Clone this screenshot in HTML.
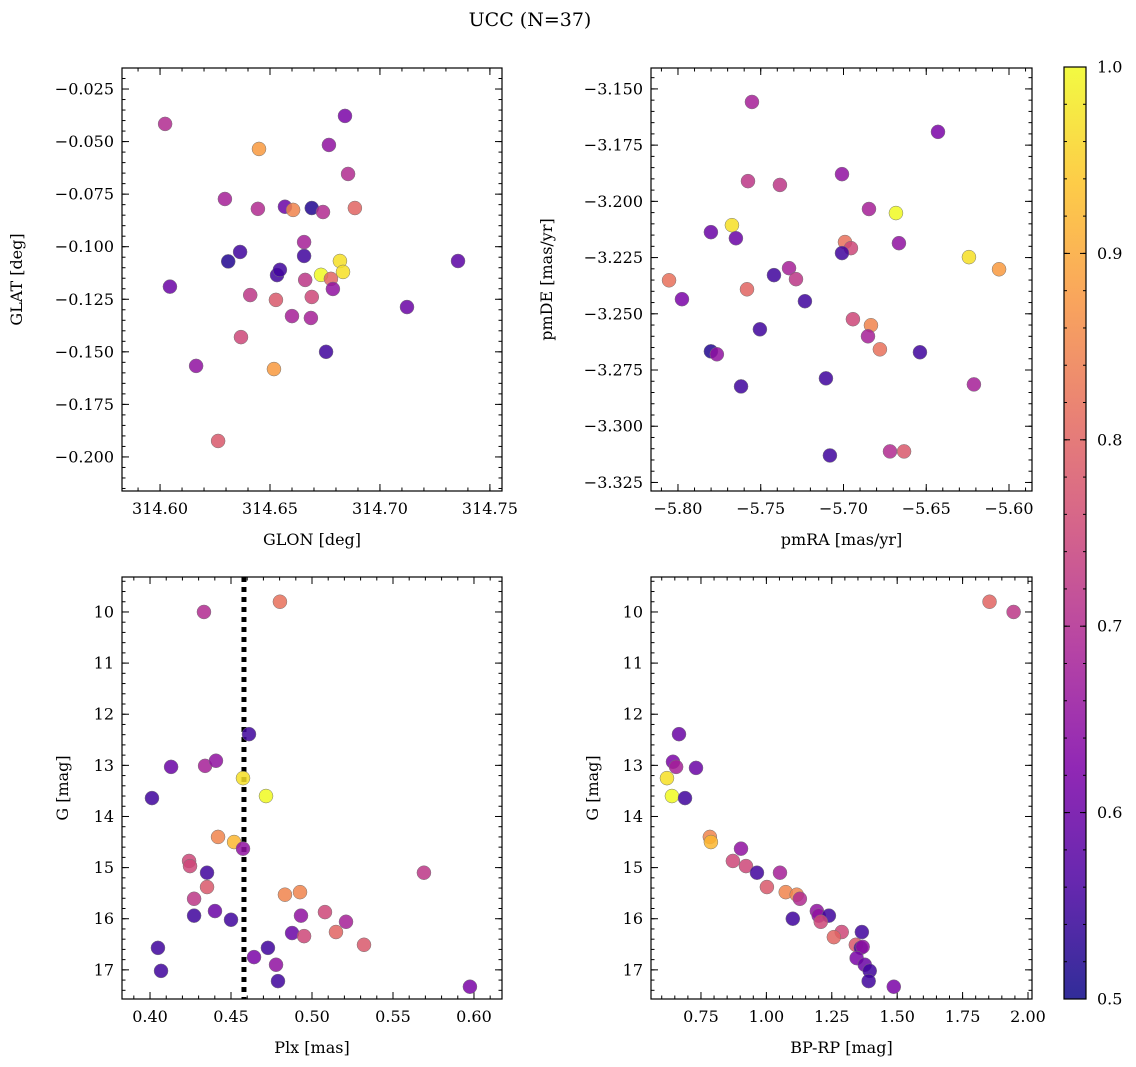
<!DOCTYPE html>
<html><head><meta charset="utf-8"><style>
html,body{margin:0;padding:0;background:#fff}
svg{display:block;font-family:"DejaVu Serif","Liberation Serif",serif}
</style></head><body>
<svg id="fig" width="1136" height="1067" viewBox="0 0 1136 1067" xmlns="http://www.w3.org/2000/svg">
<defs><linearGradient id="plasma" x1="0" y1="1" x2="0" y2="0">
<stop offset="0" stop-color="#0d0887"/><stop offset="0.125" stop-color="#4c02a1"/><stop offset="0.25" stop-color="#7e03a8"/><stop offset="0.375" stop-color="#a92395"/><stop offset="0.5" stop-color="#cc4778"/><stop offset="0.625" stop-color="#e56b5d"/><stop offset="0.75" stop-color="#f89540"/><stop offset="0.875" stop-color="#fdc328"/><stop offset="1" stop-color="#f0f921"/></linearGradient></defs>
<text x="530" y="26" font-size="19" text-anchor="middle">UCC (N=37)</text>
</svg>
<script>
const glon=[314.6023,314.6045,314.6164,314.6264,314.6295,314.631,314.6364,314.6368,314.641,314.6445,314.645,314.6527,314.6518,314.6532,314.6545,314.6568,314.6605,314.66,314.6655,314.6655,314.666,314.669,314.669,314.6686,314.6732,314.6741,314.6755,314.6768,314.6777,314.6786,314.6818,314.6832,314.6841,314.6855,314.6886,314.7123,314.7355];
const glat=[-0.0416,-0.119,-0.1567,-0.1924,-0.0773,-0.107,-0.1025,-0.143,-0.123,-0.082,-0.0535,-0.1253,-0.1582,-0.1135,-0.111,-0.081,-0.0825,-0.133,-0.1044,-0.0978,-0.1158,-0.0816,-0.1239,-0.1339,-0.1134,-0.0835,-0.150,-0.0516,-0.1153,-0.1201,-0.1068,-0.112,-0.0378,-0.0654,-0.0816,-0.1287,-0.1068];
const probA=[0.7,0.6,0.65,0.78,0.68,0.52,0.55,0.75,0.72,0.7,0.88,0.78,0.88,0.55,0.55,0.6,0.85,0.68,0.55,0.68,0.72,0.52,0.75,0.68,1.0,0.7,0.55,0.65,0.8,0.65,0.97,0.97,0.62,0.7,0.8,0.6,0.58];
const pmra=[-5.7553,-5.6429,-5.7577,-5.7384,-5.7009,-5.6846,-5.6683,-5.7674,-5.7801,-5.765,-5.6991,-5.6665,-5.6955,-5.7009,-5.6242,-5.606,-5.7329,-5.742,-5.7287,-5.8054,-5.7583,-5.7233,-5.7976,-5.7505,-5.6943,-5.6834,-5.6852,-5.678,-5.7801,-5.7765,-5.6538,-5.7619,-5.7106,-5.6212,-5.7082,-5.6719,-5.6634];
const pmde=[-3.1558,-3.1691,-3.191,-3.1927,-3.1879,-3.2034,-3.2052,-3.2106,-3.2137,-3.2164,-3.2181,-3.2186,-3.2208,-3.223,-3.2248,-3.2302,-3.2297,-3.2328,-3.2346,-3.2351,-3.2391,-3.2444,-3.2435,-3.2569,-3.2524,-3.2551,-3.26,-3.2658,-3.2667,-3.268,-3.2671,-3.2823,-3.2787,-3.2814,-3.313,-3.3112,-3.3112];
const probB=[0.68,0.62,0.72,0.72,0.65,0.68,1.0,0.97,0.6,0.6,0.82,0.65,0.75,0.55,0.97,0.88,0.68,0.55,0.72,0.82,0.8,0.55,0.62,0.55,0.75,0.85,0.68,0.82,0.52,0.65,0.55,0.55,0.55,0.68,0.55,0.7,0.78];
const plx=[0.4333,0.4802,0.4611,0.413,0.434,0.4407,0.4574,0.4716,0.4012,0.442,0.4519,0.4574,0.4241,0.4247,0.5691,0.4352,0.4352,0.4272,0.4833,0.4926,0.4401,0.508,0.45,0.4932,0.4272,0.521,0.4877,0.5148,0.4951,0.4049,0.4642,0.4728,0.5321,0.4068,0.4778,0.479,0.5975];
const gC=[10.0,9.8,12.39,13.03,13.01,12.91,13.25,13.6,13.64,14.4,14.5,14.63,14.87,14.97,15.1,15.1,15.38,15.61,15.53,15.48,15.85,15.87,16.02,15.94,15.94,16.06,16.28,16.26,16.34,16.57,16.75,16.57,16.51,17.02,16.9,17.22,17.33];
const probC=[0.7,0.82,0.55,0.6,0.68,0.65,0.97,1.0,0.55,0.85,0.92,0.65,0.75,0.75,0.72,0.55,0.78,0.72,0.85,0.85,0.6,0.75,0.55,0.65,0.55,0.68,0.6,0.8,0.75,0.55,0.62,0.55,0.78,0.55,0.65,0.55,0.62];
const bprp=[1.853,1.945,0.666,0.643,0.655,0.731,0.620,0.639,0.689,0.784,0.788,0.903,0.872,0.922,0.964,1.052,1.002,1.074,1.116,1.128,1.101,1.193,1.200,1.239,1.208,1.288,1.258,1.365,1.342,1.361,1.368,1.345,1.376,1.395,1.391,1.487];
const gD=[9.8,10.0,12.39,12.93,13.03,13.05,13.25,13.6,13.64,14.4,14.5,14.63,14.87,14.97,15.1,15.1,15.38,15.48,15.53,15.61,16.0,15.85,15.94,15.94,16.06,16.26,16.36,16.26,16.51,16.57,16.55,16.77,16.9,17.02,17.22,17.33];
const probD=[0.8,0.72,0.6,0.62,0.68,0.6,0.97,1.0,0.55,0.85,0.92,0.65,0.75,0.75,0.55,0.68,0.78,0.85,0.85,0.7,0.55,0.65,0.65,0.55,0.75,0.75,0.8,0.55,0.78,0.55,0.65,0.62,0.6,0.55,0.55,0.62];
const plxLine=0.458;
const cbTicks=[0.5,0.6,0.7,0.8,0.9,1.0];

const NS="http://www.w3.org/2000/svg",svg=document.getElementById('fig');
function mk(t,a,p){const e=document.createElementNS(NS,t);for(const k in a)e.setAttribute(k,a[k]);(p||svg).appendChild(e);return e;}
const stops=[[0,[13,8,135]],[0.125,[76,2,161]],[0.25,[126,3,168]],[0.375,[169,35,149]],[0.5,[204,71,120]],[0.625,[229,107,93]],[0.75,[248,149,64]],[0.875,[253,195,40]],[1,[240,249,33]]];
function plasma(v){let t=Math.max(0,Math.min(1,(v-0.5)/0.5));for(let i=0;i<stops.length-1;i++){const a=stops[i],b=stops[i+1];if(t<=b[0]){const f=(t-a[0])/(b[0]-a[0]);return 'rgb('+a[1].map((c,j)=>Math.round(c+(b[1][j]-c)*f)).join(',')+')';}}return 'rgb(240,249,33)';}
function fmt(v,d){return (v<0?'\u2212':'')+Math.abs(v).toFixed(d);}
function panel(o){
 const g=mk('g',{});
 const sx=v=>o.L+(v-o.x0)/(o.x1-o.x0)*(o.R-o.L);
 const sy=o.inv?(v=>o.T+(v-o.y0)/(o.y1-o.y0)*(o.B-o.T)):(v=>o.B-(v-o.y0)/(o.y1-o.y0)*(o.B-o.T));
 const lo=(a,b)=>[Math.min(a,b),Math.max(a,b)];
 function ticks(a0,a1,step,len,axis,label,d){const [a,b]=lo(a0,a1);let s=Math.ceil(a/step-1e-6);for(let k=s;k*step<=b+1e-9;k++){const v=k*step;
  if(axis==='x'){const x=sx(v);mk('line',{x1:x,x2:x,y1:o.B,y2:o.B-len,stroke:'#000','stroke-width':1},g);mk('line',{x1:x,x2:x,y1:o.T,y2:o.T+len,stroke:'#000','stroke-width':1},g);
   if(label){const t=mk('text',{x:x,y:o.B+23,'font-size':16,'text-anchor':'middle'},g);t.textContent=fmt(v,d);}}
  else{const y=sy(v);mk('line',{x1:o.L,x2:o.L+len,y1:y,y2:y,stroke:'#000','stroke-width':1},g);mk('line',{x1:o.R,x2:o.R-len,y1:y,y2:y,stroke:'#000','stroke-width':1},g);
   if(label){const t=mk('text',{x:o.L-8,y:y+5.5,'font-size':16,'text-anchor':'end'},g);t.textContent=fmt(v,d);}}}}
 ticks(o.x0,o.x1,o.xmin,3.5,'x',false);ticks(o.x0,o.x1,o.xmaj,7,'x',true,o.xd);
 ticks(o.y0,o.y1,o.ymin,3.5,'y',false);ticks(o.y0,o.y1,o.ymaj,7,'y',true,o.yd);
 if(o.vline!==undefined){const l=mk('line',{x1:sx(o.vline),x2:sx(o.vline),y1:o.T,y2:o.B,stroke:'#000','stroke-width':5,'stroke-dasharray':'5,5'},g);}
 for(let i=0;i<o.xs.length;i++){const c=mk('circle',{cx:sx(o.xs[i]),cy:sy(o.ys[i]),r:7,fill:plasma(o.p[i]),'fill-opacity':0.85,stroke:'#777','stroke-width':0.5},g);
  }
 const r=mk('rect',{x:o.L,y:o.T,width:o.R-o.L,height:o.B-o.T,fill:'none',stroke:'#000','stroke-width':1.2},g);
 const xl=mk('text',{x:(o.L+o.R)/2,y:o.B+54,'font-size':16,'text-anchor':'middle'},g);xl.textContent=o.xl;
 const yl=mk('text',{x:o.ylx,y:(o.T+o.B)/2,'font-size':16,'text-anchor':'middle',transform:'rotate(-90 '+o.ylx+' '+(o.T+o.B)/2+')'},g);yl.textContent=o.yl;
}
panel({name:'glon-glat-panel',L:122,R:502,T:68,B:491,x0:314.5827,x1:314.7555,y0:-0.2162,y1:-0.015,xmaj:0.05,xmin:0.01,ymaj:0.025,ymin:0.005,xd:2,yd:3,xs:glon,ys:glat,p:probA,xl:'GLON [deg]',yl:'GLAT [deg]',ylx:22});
panel({name:'proper-motion-panel',L:651,R:1032,T:68,B:491,x0:-5.8163,x1:-5.5861,y0:-3.3288,y1:-3.1407,xmaj:0.05,xmin:0.01,ymaj:0.025,ymin:0.005,xd:2,yd:3,xs:pmra,ys:pmde,p:probB,xl:'pmRA [mas/yr]',yl:'pmDE [mas/yr]',ylx:552});
panel({name:'parallax-panel',L:122,R:502,T:577,B:999,x0:0.3827,x1:0.6173,y0:9.316,y1:17.57,inv:true,xmaj:0.05,xmin:0.01,ymaj:1,ymin:0.2,xd:2,yd:0,xs:plx,ys:gC,p:probC,xl:'Plx [mas]',yl:'G [mag]',ylx:68,vline:plxLine});
panel({name:'cmd-panel',L:651,R:1032,T:577,B:999,x0:0.559,x1:2.0153,y0:9.316,y1:17.57,inv:true,xmaj:0.25,xmin:0.05,ymaj:1,ymin:0.2,xd:2,yd:0,xs:bprp,ys:gD,p:probD,xl:'BP-RP [mag]',yl:'G [mag]',ylx:598});
const cb=mk('g',{});
const cT=67,cB=999,cL=1064,cR=1086,cy=v=>cB-(v-0.5)/0.5*(cB-cT);
mk('rect',{x:cL,y:cT,width:cR-cL,height:cB-cT,fill:'url(#plasma)','fill-opacity':0.85},cb);
for(let k=25;k<=50;k++){const y=cy(k*0.02);mk('line',{x1:cL,x2:cL+3,y1:y,y2:y,stroke:'#000'},cb);mk('line',{x1:cR,x2:cR-3,y1:y,y2:y,stroke:'#000'},cb);}
for(const v of cbTicks){const y=cy(v);mk('line',{x1:cL,x2:cL+6,y1:y,y2:y,stroke:'#000'},cb);mk('line',{x1:cR,x2:cR-6,y1:y,y2:y,stroke:'#000'},cb);
 const t=mk('text',{x:cR+11,y:y+5.5,'font-size':16},cb);t.textContent=v.toFixed(1);}
mk('rect',{x:cL,y:cT,width:cR-cL,height:cB-cT,fill:'none',stroke:'#000','stroke-width':1.2},cb);
</script>
</body></html>
